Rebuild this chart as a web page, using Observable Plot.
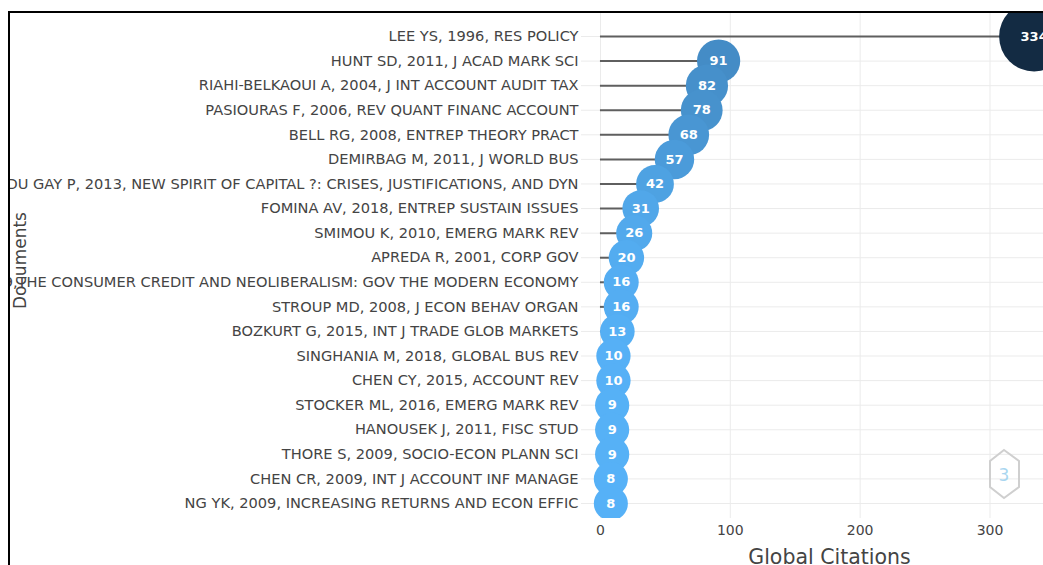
<!DOCTYPE html>
<html>
<head>
<meta charset="utf-8">
<script src="https://cdn.jsdelivr.net/npm/d3@7"></script>
<script src="https://cdn.jsdelivr.net/npm/@observablehq/plot@0.6"></script>
<style>
  html, body { margin: 0; padding: 0; background: #fff; overflow: hidden; width: 1043px; height: 565px; }
  #frame { position: absolute; left: 8px; top: 11px; width: 1100px; height: 600px;
           border-left: 2px solid #000; border-top: 2px solid #000; overflow: hidden; }
  #chart { position: absolute; left: -10px; top: -13px; }
  #logo { position: absolute; left: 0; top: 0; pointer-events: none; }
</style>
</head>
<body>
<div id="frame"><div id="chart"></div></div>
<script>
const documents = [
  "LEE YS, 1996, RES POLICY",
  "HUNT SD, 2011, J ACAD MARK SCI",
  "RIAHI-BELKAOUI A, 2004, J INT ACCOUNT AUDIT TAX",
  "PASIOURAS F, 2006, REV QUANT FINANC ACCOUNT",
  "BELL RG, 2008, ENTREP THEORY PRACT",
  "DEMIRBAG M, 2011, J WORLD BUS",
  "DU GAY P, 2013, NEW SPIRIT OF CAPITAL ?: CRISES, JUSTIFICATIONS, AND DYN",
  "FOMINA AV, 2018, ENTREP SUSTAIN ISSUES",
  "SMIMOU K, 2010, EMERG MARK REV",
  "APREDA R, 2001, CORP GOV",
  "MARRON D, 2019,THE CONSUMER CREDIT AND NEOLIBERALISM: GOV THE MODERN ECONOMY",
  "STROUP MD, 2008, J ECON BEHAV ORGAN",
  "BOZKURT G, 2015, INT J TRADE GLOB MARKETS",
  "SINGHANIA M, 2018, GLOBAL BUS REV",
  "CHEN CY, 2015, ACCOUNT REV",
  "STOCKER ML, 2016, EMERG MARK REV",
  "HANOUSEK J, 2011, FISC STUD",
  "THORE S, 2009, SOCIO-ECON PLANN SCI",
  "CHEN CR, 2009, INT J ACCOUNT INF MANAGE",
  "NG YK, 2009, INCREASING RETURNS AND ECON EFFIC"
];
const citations = [334, 91, 82, 78, 68, 57, 42, 31, 26, 20, 16, 16, 13, 10, 10, 9, 9, 9, 8, 8];
const xTicks = [0, 100, 200, 300];
const xTitle = "Global Citations";
const yTitle = "Documents";

const data = documents.map((name, i) => ({name, value: citations[i]}));
const font = "DejaVu Sans, Verdana, sans-serif";

const chart = Plot.plot({
  width: 1100,
  height: 565,
  marginLeft: 581,
  marginRight: 23,
  marginTop: 12,
  marginBottom: 47,
  style: {fontFamily: font, background: "transparent", overflow: "visible"},
  x: {domain: [-14.6, 367.4], ticks: xTicks},
  y: {type: "point", domain: documents, range: [36, 503], padding: 0, round: false},
  r: {type: "linear", domain: [0, 334], range: [16.6, 35]},
  color: {type: "linear", domain: [8, 334], range: ["#56B1F7", "#132B43"], interpolate: "lab"},
  marks: [
    Plot.ruleX(xTicks, {stroke: "#ebebeb", strokeWidth: 1}),
    Plot.ruleY(documents, {stroke: "#ebebeb", strokeWidth: 1}),
    Plot.ruleY(data, {y: "name", x1: 0, x2: "value", stroke: "#5f5f5f", strokeWidth: 2}),
    Plot.dot(data, {x: "value", y: "name", r: "value", fill: "value", stroke: "none", clip: true}),
    Plot.text(data, {x: "value", y: "name", text: d => String(d.value), fill: "white",
      fontWeight: "bold", fontSize: 13, clip: true}),
    Plot.axisY({tickSize: 0, tickPadding: 3, fontSize: 14.6, fill: "#444", label: null}),
    Plot.axisX({ticks: xTicks, tickSize: 0, tickPadding: 7, fontSize: 14, fill: "#444", label: null}),
    Plot.text([xTitle], {frameAnchor: "bottom", dy: 45, lineAnchor: "bottom", fontSize: 20.5, fill: "#444"}),
    Plot.text([yTitle], {frameAnchor: "left", dx: -561, dy: -5, rotate: -90, textAnchor: "middle", fontSize: 17, fill: "#444"})
  ]
});
document.getElementById("chart").appendChild(chart);
</script>
<svg id="logo" width="1043" height="565">
  <polygon points="1004,450 1019,461 1019,487 1004,498 990,487 990,461" fill="none" stroke="#cfcfcf" stroke-width="2"/>
  <text x="1004" y="481" text-anchor="middle" font-family="DejaVu Sans" font-size="17" fill="#a9d6f0">3</text>
</svg>
</body>
</html>
